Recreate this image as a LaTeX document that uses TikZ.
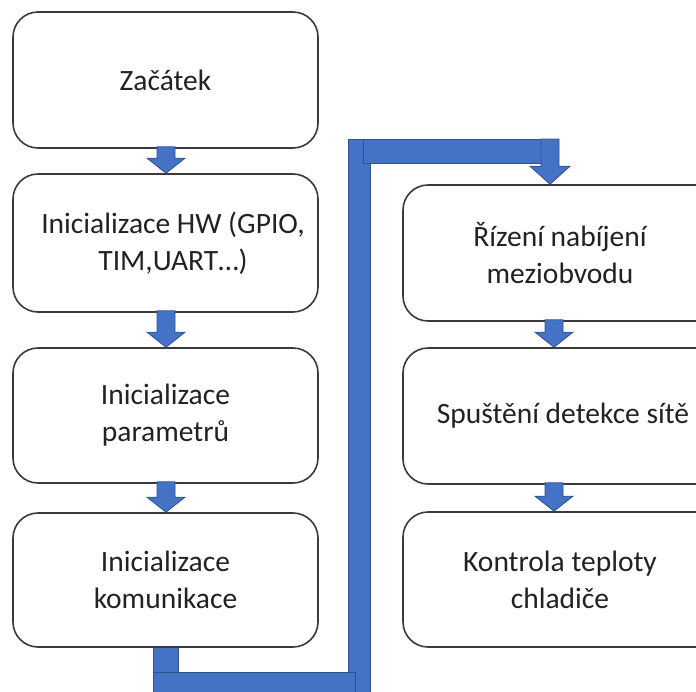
\documentclass[tikz,border=0pt]{standalone}
\usepackage{fontspec}
\setmainfont{Carlito}
\usetikzlibrary{calc}
\definecolor{flowblue}{HTML}{4472C4}
\definecolor{flowedge}{HTML}{2F528F}
\definecolor{boxline}{HTML}{3A3A3A}
\definecolor{txt}{HTML}{222222}
\tikzset{
  stepbox/.style={draw=boxline, line width=1.6pt, rounded corners=25pt, fill=white,
    align=center, text=txt, font=\fontsize{29.5}{37}\selectfont, inner sep=0pt},
  leftbox/.style={stepbox, minimum width=305pt, minimum height=136pt},
  rightbox/.style={stepbox, minimum width=320pt, minimum height=136pt},
  blk/.style={fill=flowblue, draw=flowedge, line width=0.8pt, line join=miter},
}
% short block arrow from the bottom of #1 to the top of #2, centred at x = #3
\newcommand\blockarrow[3]{%
  \path (#3,0 |- #1.south) coordinate (ba-t) (#3,0 |- #2.north) coordinate (ba-h);
  \filldraw[blk] ([shift={(-9,-2)}]ba-t) -- ([shift={(9,-2)}]ba-t)
    -- ([shift={(9,-15)}]ba-h) -- ([shift={(19,-15)}]ba-h) -- (ba-h)
    -- ([shift={(-19,-15)}]ba-h) -- ([shift={(-9,-15)}]ba-h) -- cycle;}
\begin{document}
\begin{tikzpicture}[x=1pt, y=-1pt]
\useasboundingbox (0,0) rectangle (696,691);
\clip (0,0) rectangle (696,691);

% node positions
\path (165.5,80)  coordinate (pl1) (165.5,243) coordinate (pl2)
      (165.5,415.5) coordinate (pl3) (165.5,580) coordinate (pl4)
      (563,253) coordinate (pr1) (563,416) coordinate (pr2)
      (563,579.5) coordinate (pr3);

% connector path between the two columns (drawn below the boxes)
\filldraw[blk] (153,600) rectangle (178,700);
\filldraw[blk] (348,139) rectangle (370,700);
\filldraw[blk] (153,672) rectangle (355,700);
\filldraw[blk] (363,139) rectangle (545,163);

% boxes
\node[leftbox]  (l1) at (pl1) {Začátek};
\node[leftbox, minimum height=138pt] (l2) at (pl2)
  {\hspace*{15pt}Inicializace HW (GPIO,\\\hspace*{15pt}TIM,UART…)};
\node[leftbox, minimum height=135pt] (l3) at (pl3) {Inicializace\\parametrů};
\node[leftbox, minimum height=134pt] (l4) at (pl4) {Inicializace\\komunikace};
\node[rightbox] (r1) at (pr1) {\hspace*{-6pt}Řízení nabíjení\\\hspace*{-6pt}meziobvodu};
\node[rightbox] (r2) at (pr2) {Spuštění detekce sítě};
\node[rightbox, minimum height=135pt] (r3) at (pr3) {\hspace*{-6pt}Kontrola teploty\\\hspace*{-6pt}chladiče};

% down arm of the connector into the first right box
\path (550,139) coordinate (kt) (550,0 |- r1.north) coordinate (kh);
\filldraw[blk] ([xshift=-9]kt) -- ([xshift=9]kt) -- ([shift={(9,-18)}]kh)
  -- ([shift={(20,-18)}]kh) -- (kh) -- ([shift={(-20,-18)}]kh)
  -- ([shift={(-9,-18)}]kh) -- cycle;

% short arrows between consecutive steps
\blockarrow{l1}{l2}{166}
\blockarrow{l2}{l3}{166}
\blockarrow{l3}{l4}{166}
\blockarrow{r1}{r2}{554}
\blockarrow{r2}{r3}{554}
\end{tikzpicture}
\end{document}
